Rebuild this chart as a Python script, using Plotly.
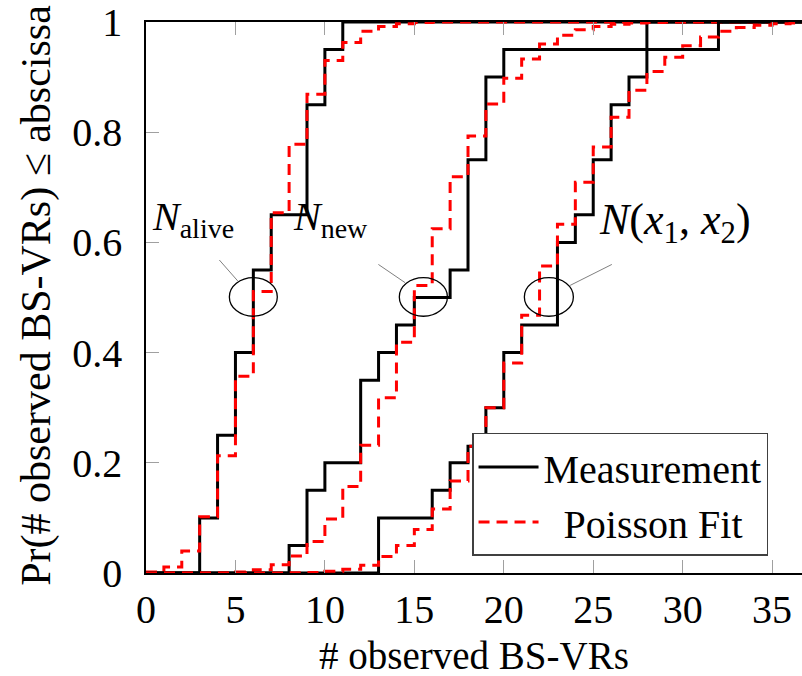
import plotly.graph_objects as go

# ---- data: empirical CDFs (Measurement) and Poisson fits, one value per integer count ----
x_alive_meas = [0, 1, 2, 3, 4, 5, 6, 7, 8, 9, 10, 11, 37]
y_alive_meas = [0, 0, 0, 0.10, 0.25, 0.40, 0.55, 0.65, 0.65, 0.85, 0.95, 1.00, 1.00]

x_alive_fit = [0, 1, 2, 3, 4, 5, 6, 7, 8, 9, 10, 11, 12, 13, 14, 15, 16, 37]
y_alive_fit = [0.002, 0.011, 0.040, 0.102, 0.213, 0.357, 0.511, 0.654, 0.778, 0.869,
               0.930, 0.963, 0.983, 0.992, 0.997, 0.999, 1.000, 1.000]

x_new_meas = [0, 7, 8, 9, 10, 11, 12, 13, 14, 15, 16, 17, 18, 19, 20, 21, 22, 23, 24, 25,
              26, 27, 28, 37]
y_new_meas = [0, 0, 0.05, 0.15, 0.20, 0.20, 0.35, 0.40, 0.45, 0.50, 0.50, 0.55, 0.75, 0.90,
              0.95, 0.95, 0.95, 0.95, 0.95, 0.95, 0.95, 0.95, 1.00, 1.00]

x_new_fit = [0, 4, 5, 6, 7, 8, 9, 10, 11, 12, 13, 14, 15, 16, 17, 18, 19, 20, 21, 22, 23,
             24, 25, 26, 27, 28, 29, 37]
y_new_fit = [0, 0.0005, 0.002, 0.006, 0.015, 0.031, 0.057, 0.098, 0.157, 0.232, 0.318,
             0.419, 0.522, 0.625, 0.719, 0.793, 0.851, 0.898, 0.933, 0.960, 0.976, 0.986,
             0.992, 0.996, 0.998, 0.999, 1.000, 1.000]

x_x12_meas = [0, 12, 13, 14, 15, 16, 17, 18, 19, 20, 21, 22, 23, 24, 25, 26, 27, 28, 29,
              30, 31, 32, 37]
y_x12_meas = [0, 0, 0.10, 0.10, 0.10, 0.15, 0.20, 0.23, 0.30, 0.40, 0.45, 0.45, 0.60, 0.65,
              0.75, 0.85, 0.90, 0.95, 0.95, 0.95, 0.95, 1.00, 1.00]

x_x12_fit = [0, 8, 9, 10, 11, 12, 13, 14, 15, 16, 17, 18, 19, 20, 21, 22, 23, 24, 25, 26,
             27, 28, 29, 30, 31, 32, 33, 34, 35, 36, 37]
y_x12_fit = [0, 0.0005, 0.001, 0.003, 0.007, 0.014, 0.030, 0.050, 0.079, 0.116, 0.167,
             0.230, 0.300, 0.381, 0.468, 0.557, 0.633, 0.709, 0.773, 0.827, 0.876, 0.910,
             0.936, 0.957, 0.973, 0.983, 0.990, 0.994, 0.997, 0.998, 0.999]

legend_names = ["Measurement", "\u00a0\u00a0Poisson Fit"]
x_ticks = [0, 5, 10, 15, 20, 25, 30, 35]
x_tick_text = ["0", "5", "10", "15", "20", "25", "30", "35"]
y_ticks = [0, 0.2, 0.4, 0.6, 0.8, 1.0]
y_tick_text = ["0", "0.2", "0.4", "0.6", "0.8", "1"]

FONT = "Liberation Serif"
BLACK = "#000000"
RED = "#ff0000"
GRAY_TICK = "#a0a0a0"

fig = go.Figure()

pairs = [
    (x_alive_meas, y_alive_meas, x_alive_fit, y_alive_fit),
    (x_new_meas, y_new_meas, x_new_fit, y_new_fit),
    (x_x12_meas, y_x12_meas, x_x12_fit, y_x12_fit),
]
for i, (xm, ym, xf, yf) in enumerate(pairs):
    fig.add_trace(go.Scatter(
        x=xm, y=ym, mode="lines", line=dict(color=BLACK, width=3, shape="hv"),
        name=legend_names[0], legendgroup="meas", showlegend=(i == 0)))
    fig.add_trace(go.Scatter(
        x=xf, y=yf, mode="lines", line=dict(color=RED, width=3, shape="hv", dash="11px,7px"),
        name=legend_names[1], legendgroup="fit", showlegend=(i == 0)))

# ellipses marking the median crossing of each distribution
ellipses = [(4.66, 7.34), (14.16, 16.85), (21.15, 23.89)]
for x0, x1 in ellipses:
    fig.add_shape(type="circle", xref="x", yref="y", x0=x0, x1=x1, y0=0.466, y1=0.536,
                  line=dict(color=BLACK, width=1.3))

# pin lines from labels to ellipses
pins = [((4.10, 0.568), (5.13, 0.530)),
        ((12.99, 0.560), (14.48, 0.527)),
        ((26.04, 0.560), (23.71, 0.522))]
for (xa, ya), (xb, yb) in pins:
    fig.add_shape(type="line", xref="x", yref="y", x0=xa, y0=ya, x1=xb, y1=yb,
                  line=dict(color="#808080", width=1))

labels = [("<i>N</i><sub>alive</sub>", 0.22, 0.642, 40),
          ("<i>N</i><sub>new</sub>", 8.1, 0.642, 40),
          ("<i>N</i>(<i>x</i><sub>1</sub>,\u00a0<i>x</i><sub>2</sub>)", 25.2, 0.637, 44)]
for txt, xl, yl, fs in labels:
    fig.add_annotation(x=xl, y=yl, xref="x", yref="y", text=txt, showarrow=False,
                       xanchor="left", yanchor="middle",
                       font=dict(family=FONT, size=fs, color=BLACK))

# axis titles
fig.add_annotation(x=0.5, y=-0.193, xref="paper", yref="paper", text="# observed BS-VRs",
                   showarrow=False, xanchor="center", yanchor="bottom",
                   font=dict(family=FONT, size=39, color=BLACK))
fig.add_annotation(x=-0.168, y=0.5045, xref="paper", yref="paper",
                   text="Pr(# observed BS-VRs) \u2264 abscissa", textangle=-90,
                   showarrow=False, xanchor="center", yanchor="middle",
                   font=dict(family=FONT, size=42, color=BLACK))

fig.update_layout(
    width=802, height=676,
    margin=dict(l=146, r=0, t=22, b=103),
    paper_bgcolor="white", plot_bgcolor="white",
    font=dict(family=FONT, size=40, color=BLACK),
    showlegend=True,
    legend=dict(x=0.497, y=0.031, xanchor="left", yanchor="bottom",
                bgcolor="white", bordercolor="#404040", borderwidth=1.5,
                font=dict(family=FONT, size=40, color=BLACK),
                itemwidth=60, tracegroupgap=0),
    xaxis=dict(range=[0, 36.67], tickvals=x_ticks, ticktext=x_tick_text,
               ticks="inside", ticklen=13, tickwidth=1, tickcolor=GRAY_TICK,
               showline=True, linecolor=BLACK, linewidth=1.5, mirror="ticks",
               showgrid=False, zeroline=False,
               tickfont=dict(family=FONT, size=40, color=BLACK)),
    yaxis=dict(range=[0, 1], tickvals=y_ticks, ticktext=y_tick_text,
               ticks="inside", ticklen=13, tickwidth=1, tickcolor=GRAY_TICK,
               showline=True, linecolor=BLACK, linewidth=1.5, mirror=False,
               showgrid=False, zeroline=False, ticklabelstandoff=14,
               tickfont=dict(family=FONT, size=40, color=BLACK)),
    yaxis2=dict(range=[0, 1], overlaying="y", side="right", tickvals=y_ticks,
                ticks="inside", ticklen=7, tickwidth=1, tickcolor=GRAY_TICK,
                showticklabels=False, showline=False, showgrid=False, zeroline=False),
)

fig.write_html("out.html")
